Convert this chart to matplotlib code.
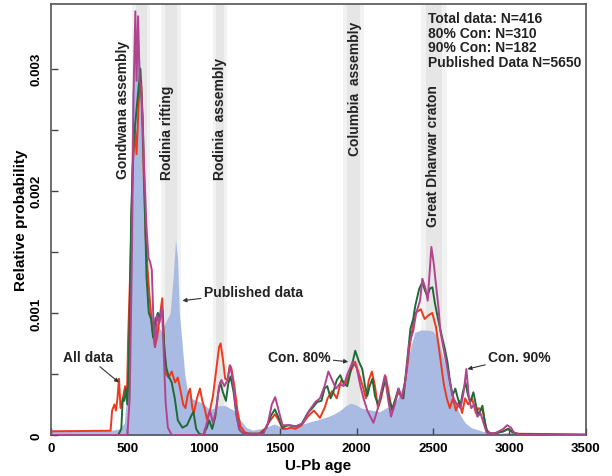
import matplotlib
matplotlib.use('Agg')
import matplotlib.pyplot as plt

# Ages (Ma) and relative probability (x 1e-3)
pub_age = [0, 400, 450, 480, 500, 515, 530, 545, 560, 575, 590, 605, 620, 640, 660, 680, 700, 720,
           740, 760, 780, 800, 815, 828, 840, 858, 875, 890, 920, 950, 976, 1010, 1040, 1070, 1100,
           1140, 1170, 1200, 1240, 1280, 1320, 1370, 1420, 1460, 1500, 1550, 1600, 1650, 1700, 1760,
           1810, 1850, 1890, 1930, 1960, 1990, 2030, 2070, 2110, 2150, 2190, 2230, 2270, 2300, 2330,
           2355, 2380, 2420, 2460, 2500, 2530, 2560, 2590, 2620, 2650, 2680, 2710, 2750, 2800, 2850,
           2900, 3000, 3100, 3500]
pub_val = [0.04, 0.04, 0.05, 0.1, 0.4, 1.6, 2.8, 3.1, 3.35, 3.2, 2.9, 2.3, 1.5, 1.2, 1.0, 0.95, 0.9, 0.85,
           0.9, 0.95, 1.0, 1.3, 1.6, 1.45, 1.0, 0.75, 0.5, 0.38, 0.3, 0.28, 0.27, 0.24, 0.21, 0.22, 0.24,
           0.24, 0.22, 0.2, 0.12, 0.06, 0.04, 0.05, 0.07, 0.09, 0.07, 0.06, 0.07, 0.09, 0.11, 0.13,
           0.15, 0.17, 0.2, 0.24, 0.26, 0.25, 0.22, 0.21, 0.2, 0.19, 0.22, 0.24, 0.3, 0.4, 0.58,
           0.72, 0.84, 0.86, 0.86, 0.85, 0.8, 0.66, 0.52, 0.36, 0.24, 0.16, 0.1, 0.06, 0.04, 0.02,
           0.01, 0.02, 0.005, 0.0]

all_age = [0, 390, 400, 415, 425, 435, 445, 455, 470, 485, 497, 505, 520, 535, 550, 560, 575, 590, 605,
           620, 635, 650, 665, 680, 695, 710, 728, 740, 752, 770, 790, 812, 830, 845, 865, 880, 895,
           910, 925, 935, 955, 975, 990, 1005, 1020, 1040, 1060, 1080, 1100, 1110, 1125, 1140, 1155,
           1170, 1180, 1200, 1220, 1240, 1270, 1300, 1360, 1400, 1435, 1465, 1490, 1515, 1540, 1570,
           1600, 1640, 1680, 1720, 1760, 1790, 1810, 1840, 1870, 1900, 1930, 1960, 1990, 2015, 2040,
           2060, 2080, 2100, 2120, 2140, 2160, 2190, 2210, 2230, 2250, 2275, 2300, 2330, 2355, 2385,
           2420, 2445, 2470, 2495, 2520, 2545, 2570, 2590, 2610, 2630, 2650, 2670, 2690, 2710, 2730,
           2755, 2780, 2800, 2825, 2850, 2880, 2960, 2990, 3020, 3060, 3500]
all_val = [0.03, 0.035, 0.2, 0.25, 0.2, 0.3, 0.46, 0.22, 0.3, 0.4, 0.3, 0.8, 1.4, 2.2, 2.5, 2.3, 2.75, 2.9, 2.2,
           1.6, 1.3, 1.05, 0.85, 0.72, 0.8, 0.95, 1.12, 0.75, 0.5, 0.47, 0.52, 0.43, 0.47, 0.38, 0.25, 0.22, 0.33,
           0.38, 0.22, 0.18, 0.3, 0.38, 0.28, 0.22, 0.13, 0.2, 0.32, 0.52, 0.72, 0.75, 0.62, 0.46, 0.45,
           0.57, 0.55, 0.4, 0.2, 0.07, 0.02, 0.01, 0.01, 0.05, 0.12, 0.17, 0.12, 0.05, 0.05, 0.06,
           0.05, 0.08, 0.15, 0.2, 0.14, 0.22, 0.3, 0.36, 0.3, 0.45, 0.42, 0.52, 0.6, 0.5, 0.4,
           0.3, 0.45, 0.52, 0.4, 0.22, 0.3, 0.48, 0.35, 0.2, 0.28, 0.35, 0.3, 0.55, 0.8, 1.0,
           1.03, 0.95, 0.98, 1.0, 0.88, 0.65, 0.42, 0.3, 0.22, 0.3, 0.2, 0.28, 0.18, 0.3, 0.25,
           0.3, 0.18, 0.22, 0.2, 0.04, 0.01, 0.03, 0.05, 0.02, 0.01, 0.005]

c80_age = [0, 440, 460, 470, 480, 490, 500, 510, 525, 540, 555, 570, 585, 600, 612, 625, 640, 655, 668,
           685, 700, 712, 728, 742, 755, 770, 790, 810, 830, 860, 890, 915, 932, 950, 970, 995, 1020,
           1035, 1055, 1075, 1095, 1108, 1125, 1145, 1160, 1175, 1195, 1215, 1235, 1260, 1380, 1410,
           1440, 1465, 1490, 1515, 1550, 1600, 1640, 1680, 1710, 1742, 1770, 1790, 1808, 1830, 1847,
           1870, 1893, 1915, 1939, 1965, 1991, 2015, 2037, 2055, 2070, 2085, 2103, 2120, 2142, 2165,
           2188, 2210, 2234, 2255, 2273, 2290, 2306, 2330, 2352, 2370, 2384, 2410, 2430, 2448, 2463,
           2480, 2496, 2512, 2528, 2545, 2561, 2578, 2594, 2610, 2627, 2646, 2662, 2679, 2695, 2712,
           2728, 2744, 2764, 2780, 2797, 2823, 2840, 2856, 2895, 2930, 2961, 2993, 3026, 3060, 3500]
c80_val = [0.0, 0.0, 0.05, 0.3, 0.28, 0.38, 0.25, 0.6, 1.8, 2.4, 2.6, 2.8, 3.0, 2.6, 2.0, 1.3, 1.0, 0.95, 0.8,
           0.95, 1.0, 0.95, 1.03, 0.7, 0.55, 0.48, 0.43, 0.3, 0.12, 0.06, 0.08, 0.15, 0.19, 0.05, 0.01, 0.0, 0.06,
           0.12, 0.05, 0.15, 0.35, 0.43, 0.35, 0.28, 0.42, 0.48, 0.35, 0.15, 0.04, 0.01, 0.01, 0.06,
           0.16, 0.21, 0.14, 0.06, 0.08, 0.07, 0.09, 0.18, 0.22, 0.27, 0.28, 0.38, 0.4, 0.3, 0.35,
           0.45, 0.49, 0.42, 0.4, 0.55, 0.69, 0.6, 0.54, 0.4, 0.32, 0.4, 0.46, 0.32, 0.24, 0.35,
           0.46, 0.3, 0.21, 0.3, 0.38, 0.32, 0.3, 0.6, 0.87, 0.95, 1.06, 1.2, 1.25, 1.18, 1.14,
           1.2, 1.21, 1.08, 0.98, 0.88, 0.79, 0.7, 0.6, 0.45, 0.32, 0.38, 0.3, 0.24, 0.35, 0.43,
           0.33, 0.27, 0.35, 0.25, 0.16, 0.24, 0.1, 0.02, 0.01, 0.02, 0.03, 0.05, 0.02, 0.005, 0.0]

c90_age = [0, 500, 515, 530, 540, 552, 560, 570, 580, 590, 600, 612, 625, 638, 648, 660, 670, 681, 695,
           710, 726, 740, 750, 765, 790, 1000, 1020, 1040, 1060, 1080, 1100, 1115, 1135, 1155, 1172,
           1190, 1210, 1230, 1260, 1390, 1420, 1445, 1467, 1490, 1515, 1560, 1610, 1650, 1690, 1730,
           1760, 1790, 1815, 1840, 1865, 1890, 1915, 1940, 1975, 2000, 2025, 2045, 2070, 2090, 2110,
           2135, 2160, 2185, 2205, 2225, 2250, 2275, 2295, 2320, 2345, 2370, 2390, 2415, 2430, 2450,
           2465, 2489, 2505, 2515, 2535, 2548, 2570, 2594, 2615, 2635, 2655, 2680, 2700, 2718, 2735,
           2750, 2770, 2790, 2810, 2830, 2850, 2900, 2960, 2985, 3010, 3030, 3070, 3500]
c90_val = [0.0, 0.0, 0.3, 1.5, 2.8, 3.47, 2.9, 3.43, 2.9, 2.86, 2.55, 2.1, 1.7, 1.45, 1.42, 1.35, 0.95, 0.72, 0.98,
           0.92, 1.05, 0.6, 0.27, 0.06, 0.0, 0.0, 0.1, 0.2, 0.1, 0.2, 0.4, 0.45, 0.4, 0.45, 0.57,
           0.45, 0.2, 0.05, 0.01, 0.01, 0.1, 0.25, 0.31, 0.2, 0.08, 0.08, 0.07, 0.1, 0.2, 0.27,
           0.3, 0.4, 0.52, 0.45, 0.38, 0.42, 0.4, 0.5, 0.6, 0.55, 0.4, 0.3, 0.2, 0.15, 0.1,
           0.2, 0.35, 0.49, 0.3, 0.15, 0.25, 0.38, 0.3, 0.45, 0.75, 0.85, 1.0, 1.1, 1.28, 1.2,
           1.1, 1.54, 1.4, 1.28, 1.05, 0.85, 0.7, 0.54, 0.4, 0.3, 0.25, 0.22, 0.35, 0.54, 0.3,
           0.22, 0.25, 0.15, 0.18, 0.1, 0.02, 0.01, 0.05, 0.08, 0.06, 0.02, 0.0, 0.0]

# Tectonic events (age ranges) and their labels
events = ['Gondwana assembly', 'Rodinia rifting', 'Rodinia  assembly', 'Columbia  assembly',
          'Great Dharwar craton']
event_lo = [530, 720, 1060, 1910, 2420]
event_hi = [650, 850, 1150, 2050, 2590]
event_lbl_x = [472, 760, 1107, 1991, 2502]
event_lbl_y = [2.67, 2.48, 2.6, 2.84, 2.29]

summary = ['Total data: N=416', '80% Con: N=310', '90% Con: N=182', 'Published Data N=5650']

scale = 1e-3

plt.rcParams['font.family'] = ['Liberation Sans', 'DejaVu Sans']
plt.rcParams['font.weight'] = 'bold'

fig = plt.figure(figsize=(6.12, 4.77), dpi=100)
ax = fig.add_axes([0.0833, 0.086, 0.874, 0.9035])

# soft grey bands
for lo, hi in zip(event_lo, event_hi):
    w = hi - lo
    ax.axvspan(lo, hi, color='#f2f2f2', lw=0, zorder=0)
    ax.axvspan(lo + 0.2 * w, hi - 0.2 * w, color='#e6e6e6', lw=0, zorder=0)

ax.fill_between(pub_age, [v * scale for v in pub_val], 0, color='#a9bae3', lw=0, zorder=1)
ax.plot(all_age, [v * scale for v in all_val], color='#ec3a1c', lw=1.4, zorder=3)
ax.plot(c80_age, [v * scale for v in c80_val], color='#1e6a38', lw=1.4, zorder=4)
ax.plot(c90_age, [v * scale for v in c90_val], color='#b2448f', lw=1.4, zorder=5)

for name, x, y in zip(events, event_lbl_x, event_lbl_y):
    ax.text(x, y * scale, name, rotation=90, ha='center', va='center', fontsize=10,
            fontweight='bold', color='#222222', zorder=6)

ax.text(2469, 3.47 * scale, '\n'.join(summary), ha='left', va='top', fontsize=10,
        fontweight='bold', color='#222222', linespacing=1.05, zorder=6)

arrow = dict(arrowstyle='-|>', color='#333333', lw=0.8, mutation_scale=6, shrinkA=0, shrinkB=0)
ax.annotate('All data', xy=(445, 0.43 * scale), xytext=(242, 0.64 * scale), ha='center',
            va='center', fontsize=10, fontweight='bold', color='#222222', arrowprops=arrow, zorder=7)
ax.annotate('Published data', xy=(860, 1.10 * scale), xytext=(1000, 1.17 * scale), ha='left',
            va='center', fontsize=10, fontweight='bold', color='#222222', arrowprops=arrow, zorder=7)
ax.annotate('Con. 80%', xy=(1945, 0.60 * scale), xytext=(1830, 0.64 * scale), ha='right',
            va='center', fontsize=10, fontweight='bold', color='#222222', arrowprops=arrow, zorder=7)
ax.annotate('Con. 90%', xy=(2725, 0.54 * scale), xytext=(2860, 0.64 * scale), ha='left',
            va='center', fontsize=10, fontweight='bold', color='#222222', arrowprops=arrow, zorder=7)

ax.set_xlim(0, 3500)
ax.set_ylim(0, 3.53 * scale)
ax.set_xticks(range(0, 3501, 500))
ax.set_yticks([0, 0.001, 0.002, 0.003], labels=['0', '0.001', '0.002', '0.003'])
ax.set_yticks([0.0005, 0.0015, 0.0025], minor=True)
ax.tick_params(axis='both', which='both', direction='in', length=5, width=1, color='#444444',
               labelsize=9.5)
ax.tick_params(axis='x', pad=5)
ax.tick_params(axis='y', pad=6)
plt.setp(ax.get_yticklabels(), rotation=90, va='center')
for lab in ax.get_xticklabels() + ax.get_yticklabels():
    lab.set_fontweight('bold')
for sp in ax.spines.values():
    sp.set_color('#555555')
    sp.set_linewidth(1.2)

ax.set_xlabel('U-Pb age', fontsize=11, fontweight='bold', labelpad=3)
ax.set_ylabel('Relative probability', fontsize=11, fontweight='bold', labelpad=2)

fig.savefig('out.png', dpi=100)
